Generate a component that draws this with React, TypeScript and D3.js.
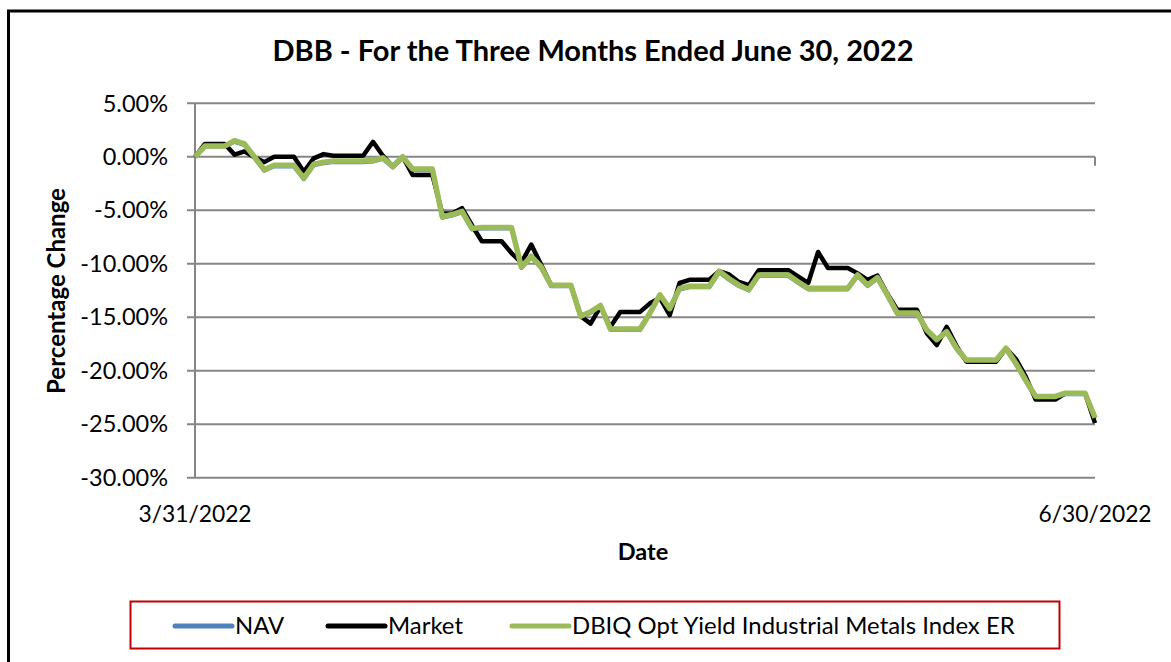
import React from "react";
import * as d3 from "d3";

// calendar days 3/31/2022 .. 6/30/2022 (weekends/holidays carry the prior value)
const startDate = new Date(2022, 2, 31);
const endDate = new Date(2022, 5, 30);
const dates = d3.timeDay.range(startDate, d3.timeDay.offset(endDate, 1));

// percent change, one value per calendar day
const marketValues = [
  0, 1.2, 1.2, 1.2, 0.2, 0.5, -0.05, -0.5, 0.0, 0.0, 0.0, -1.4, -0.15, 0.25, 0.1, 0.1, 0.1, 0.1, 1.4, 0.1, -0.9, 0.0, -1.7, -1.7, -1.7,
  -5.3, -5.3, -4.8, -6.4, -7.9, -7.9, -7.9, -9.0, -9.9, -8.2, -10.1, -12.0, -12.0, -12.0, -14.9, -15.6, -14.0, -15.9, -14.5, -14.5, -14.5,
  -13.7, -13.2, -14.8, -11.8, -11.5, -11.5, -11.5, -10.7, -11.0, -11.7, -12.0, -10.6, -10.6, -10.6, -10.6, -11.2, -11.8, -8.9, -10.4, -10.4,
  -10.4, -10.9, -11.5, -11.1, -12.8, -14.3, -14.3, -14.3, -16.5, -17.6, -15.9, -17.7, -19.15, -19.15, -19.15, -19.15, -17.9, -18.9, -20.55,
  -22.7, -22.7, -22.7, -22.1, -22.1, -22.1, -24.9,
];

const indexValues = [
  0, 1.0, 1.0, 1.0, 1.5, 1.2, 0.0, -1.2, -0.8, -0.8, -0.8, -2.0, -0.7, -0.5, -0.4, -0.4, -0.4, -0.4, -0.35, -0.1, -0.9, 0.0, -1.15, -1.15, -1.15,
  -5.6, -5.4, -5.1, -6.7, -6.6, -6.6, -6.6, -6.6, -10.3, -9.3, -10.3, -12.0, -12.0, -12.0, -14.9, -14.5, -13.9, -16.1, -16.1, -16.1, -16.1,
  -14.6, -12.9, -14.2, -12.3, -12.1, -12.1, -12.1, -10.7, -11.4, -12.0, -12.4, -11.05, -11.05, -11.05, -11.05, -11.7, -12.3, -12.3, -12.3, -12.3,
  -12.3, -11.05, -12.0, -11.3, -12.9, -14.6, -14.6, -14.6, -16.2, -17.1, -16.35, -17.9, -19.0, -19.0, -19.0, -19.0, -17.9, -19.3, -20.9,
  -22.4, -22.4, -22.4, -22.1, -22.1, -22.1, -24.4,
];

const navValues = [
  0, 0.95, 0.95, 0.95, 1.4, 1.1, -0.1, -1.3, -0.9, -0.9, -0.9, -2.1, -0.8, -0.6, -0.5, -0.5, -0.5, -0.5, -0.45, -0.2, -1.0, -0.1, -1.25, -1.25, -1.25,
  -5.7, -5.5, -5.2, -6.8, -6.7, -6.7, -6.7, -6.7, -10.4, -9.4, -10.4, -12.1, -12.1, -12.1, -15.0, -14.6, -14.0, -16.2, -16.2, -16.2, -16.2,
  -14.7, -13.0, -14.3, -12.4, -12.2, -12.2, -12.2, -10.8, -11.5, -12.1, -12.5, -11.15, -11.15, -11.15, -11.15, -11.8, -12.4, -12.4, -12.4, -12.4,
  -12.4, -11.15, -12.1, -11.4, -13.0, -14.7, -14.7, -14.7, -16.3, -17.2, -16.45, -18.0, -19.1, -19.1, -19.1, -19.1, -18.0, -19.4, -21.0,
  -22.5, -22.5, -22.5, -22.2, -22.2, -22.2, -24.5,
];

const yTicks = [5, 0, -5, -10, -15, -20, -25, -30];
const xTickLabels = ["3/31/2022", "6/30/2022"];

const seriesNames = ["NAV", "Market", "DBIQ Opt Yield Industrial Metals Index ER"];
const seriesColors = ["#4f81bd", "#000000", "#9bbb59"];
const seriesWidths = [4, 4.5, 5.5];

const FONT = "Lato, 'Liberation Sans', sans-serif";

export default function App() {
  const width = 1171;
  const height = 662;
  const plot = { left: 195, right: 1095, top: 103.3, bottom: 477.7 };

  const x = d3.scaleTime().domain([startDate, endDate]).range([plot.left, plot.right]);
  const y = d3.scaleLinear().domain([-30, 5]).range([plot.bottom, plot.top]);

  const line = d3
    .line<number>()
    .x((_, i) => x(dates[i]))
    .y((d) => y(d));

  const series = [navValues, marketValues, indexValues];
  const legendX = [175, 328, 512];

  return (
    <svg width={width} height={height} style={{ position: "absolute", left: 0, top: 0, background: "#fff" }}>
      <rect x={0} y={0} width={width} height={height} fill="#fff" />
      <rect x={8.5} y={11} width={1180} height={680} fill="none" stroke="#000" strokeWidth={3} />

      <text x={593} y={61} textAnchor="middle" fontFamily={FONT} fontWeight="bold" fontSize={29} fill="#000">
        DBB - For the Three Months Ended June 30, 2022
      </text>

      {yTicks.map((t) => (
        <g key={t}>
          <line x1={plot.left - 8} x2={plot.right} y1={y(t)} y2={y(t)} stroke="#868686" strokeWidth={2} />
          <text x={168} y={y(t)} dy="0.35em" textAnchor="end" fontFamily={FONT} fontSize={23.5} fill="#000">
            {t.toFixed(2) + "%"}
          </text>
        </g>
      ))}
      <line x1={plot.left} x2={plot.left} y1={plot.top} y2={plot.bottom} stroke="#868686" strokeWidth={2} />
      <line x1={plot.right} x2={plot.right} y1={y(0)} y2={y(0) + 9} stroke="#868686" strokeWidth={2} />

      {xTickLabels.map((l, i) => (
        <text key={l} x={x(i === 0 ? startDate : endDate)} y={522} textAnchor="middle" fontFamily={FONT} fontSize={22.8} fill="#000">
          {l}
        </text>
      ))}

      <text x={643} y={560} textAnchor="middle" fontFamily={FONT} fontWeight="bold" fontSize={23.5} fill="#000">
        Date
      </text>
      <text transform="translate(65,291) rotate(-90)" textAnchor="middle" fontFamily={FONT} fontWeight="bold" fontSize={24} fill="#000">
        Percentage Change
      </text>

      {series.map((s, i) => (
        <path key={seriesNames[i]} d={line(s) || ""} fill="none" stroke={seriesColors[i]} strokeWidth={seriesWidths[i]} strokeLinejoin="round" />
      ))}

      <rect x={130.5} y={601.5} width={929} height={47} fill="#fff" stroke="#c00000" strokeWidth={2} />
      {seriesNames.map((n, i) => (
        <g key={n}>
          <line x1={legendX[i]} x2={legendX[i] + 57} y1={626} y2={626} stroke={seriesColors[i]} strokeWidth={5} strokeLinecap="round" />
          <text x={legendX[i] + 60} y={634} fontFamily={FONT} fontSize={23.9} fill="#000">
            {n}
          </text>
        </g>
      ))}
    </svg>
  );
}
